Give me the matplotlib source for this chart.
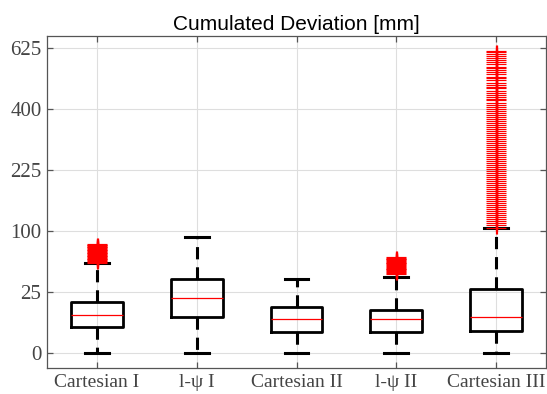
import numpy as np
import matplotlib
matplotlib.use("Agg")
import matplotlib.pyplot as plt
from matplotlib.path import Path

# box statistics (mm)
labels = ["Cartesian I", "l-\u03c8 I", "Cartesian II", "l-\u03c8 II", "Cartesian III"]
whislo = [0, 0, 0, 0, 0]
q1 = [4.5, 8.6, 3.05, 3.05, 3.35]
med = [9.7, 20.1, 7.6, 7.6, 8.7]
q3 = [17.7, 36.5, 14.4, 12.6, 27.5]
whishi = [54, 90.4, 36.8, 39.1, 105.5]

fliers_cart1 = [55, 56, 57, 58, 59, 60, 61, 62, 63, 64, 65, 66, 67, 68, 69, 70,
                71, 72, 73, 74, 75, 76, 77, 78, 79, 79.5]
fliers_lpsi1 = []
fliers_cart2 = []
fliers_lpsi2 = [42, 43, 44, 45, 46, 47, 48, 49, 50, 51, 52, 53, 54, 55, 56, 57,
                58, 59, 60, 61, 62]
fliers_cart3 = [106, 110, 113, 117, 120, 124, 128, 131, 135, 139, 143, 147, 151, 155,
                159, 163, 167, 172, 176, 181, 185, 190, 194, 199, 203, 208, 213, 218,
                223, 228, 233, 238, 243, 248, 253, 259, 264, 269, 275, 280, 286, 291,
                297, 303, 308, 314, 320, 326, 332, 338, 344, 350, 357, 363, 369, 376,
                382, 389, 395, 402, 408, 415, 422, 429, 435, 442, 449, 456, 463, 471,
                477, 485, 492, 500, 507, 514, 522, 530, 537, 545, 552, 560, 568, 576,
                584, 592, 600, 608, 612]
fliers = [fliers_cart1, fliers_lpsi1, fliers_cart2, fliers_lpsi2, fliers_cart3]

yticks = [0, 25, 100, 225, 400, 625]

stats = []
for i in range(len(labels)):
    stats.append(dict(label=labels[i], whislo=whislo[i], q1=q1[i], med=med[i],
                      q3=q3[i], whishi=whishi[i], fliers=fliers[i]))


def fwd(x):
    x = np.asarray(x, dtype=float)
    return np.sign(x) * np.sqrt(np.abs(x))


def inv(y):
    y = np.asarray(y, dtype=float)
    return np.sign(y) * y ** 2


# MATLAB style '+' outlier marker, wider than tall, doubled stem
plus = Path([(-1, 0), (1, 0), (-0.05, -0.6), (-0.05, 0.6), (0.05, -0.6), (0.05, 0.6)],
            [Path.MOVETO, Path.LINETO, Path.MOVETO, Path.LINETO,
             Path.MOVETO, Path.LINETO])

fig = plt.figure(figsize=(5.47, 3.94), dpi=100)
ax = fig.add_axes([47 / 547, 26 / 394, 499 / 547, 332 / 394])
ax.set_yscale("function", functions=(fwd, inv))

ax.bxp(
    stats,
    positions=np.arange(1, len(labels) + 1),
    widths=0.52,
    showfliers=True,
    boxprops=dict(color="black", linewidth=2.0),
    whiskerprops=dict(color="black", linewidth=2.2, linestyle=(0, (4, 2.6))),
    capprops=dict(color="black", linewidth=2.2),
    capwidths=0.24,
    medianprops=dict(color="#ff0000", linewidth=0.9),
    flierprops=dict(marker=plus, markersize=14.4, markeredgecolor="#ff0000",
                    markerfacecolor="none", markeredgewidth=0.85, linestyle="none"),
    zorder=3,
)

ax.set_xlim(0.5, 5.5)
ax.set_ylim(-1.5, 676)
ax.set_yticks(yticks)
ax.set_yticklabels([str(t) for t in yticks])
ax.set_xticks(np.arange(1, len(labels) + 1))
ax.set_xticklabels(labels)

ax.grid(True, color="#dedede", linewidth=0.8, zorder=0)
ax.set_axisbelow(True)
for s in ax.spines.values():
    s.set_color("#555555")
    s.set_linewidth(0.9)
ax.tick_params(direction="in", length=4, width=0.9, color="#555555",
               top=True, right=True, labelsize=14, labelcolor="#444444", pad=4)
ax.tick_params(axis="y", labelsize=15)
for lab in ax.get_xticklabels() + ax.get_yticklabels():
    lab.set_family("Liberation Serif")

ax.set_title("Cumulated Deviation [mm]", fontsize=15, family="Liberation Sans",
             pad=4)

fig.savefig("out.png", dpi=100)
